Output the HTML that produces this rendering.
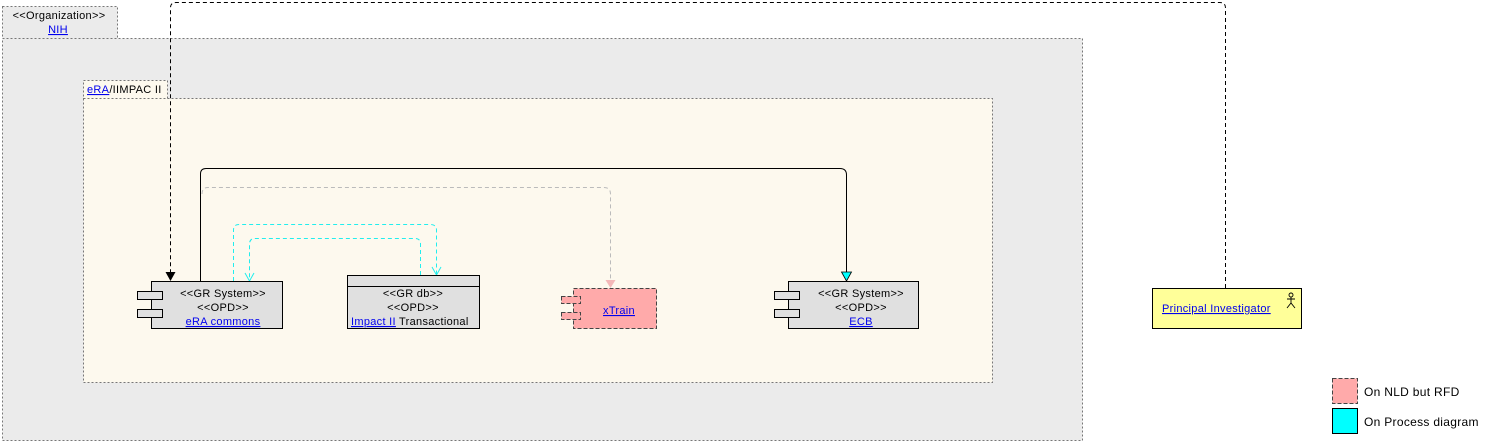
<!DOCTYPE html>
<html><head><meta charset="utf-8"><style>
body{margin:0;background:#fff}
svg{display:block;font-family:"Liberation Sans",sans-serif;font-size:11px;letter-spacing:0.3px}
.l{fill:#00e;text-decoration:underline}
</style></head><body>
<svg width="1504" height="445" viewBox="0 0 1504 445">
<!-- Org -->
<rect x="2.5" y="6.5" width="115" height="32" fill="#ebebeb" stroke="#777" stroke-dasharray="2,2"/>
<rect x="2.5" y="38.5" width="1080" height="402" fill="#ebebeb" stroke="#777" stroke-dasharray="2,2"/>
<text x="59" y="19" text-anchor="middle" fill="#000">&lt;&lt;Organization&gt;&gt;</text>
<text x="58" y="33" text-anchor="middle" class="l">NIH</text>
<!-- eRA -->
<rect x="83.5" y="80.5" width="84" height="18" fill="#fdf9ee" stroke="#777" stroke-dasharray="2,2"/>
<rect x="83.5" y="98.5" width="909" height="284" fill="#fdf9ee" stroke="#777" stroke-dasharray="2,2"/>
<text x="87" y="93"><tspan class="l">eRA</tspan><tspan>/IIMPAC II</tspan></text>
<!-- connectors -->
<path d="M1225.5,288 V8 Q1225.5,2.5 1220,2.5 H176 Q170.5,2.5 170.5,8 V272" fill="none" stroke="#000" stroke-dasharray="4,3"/>
<path d="M165.5,272 L175.5,272 L170.5,281z" fill="#000"/>
<path d="M200.5,281 V174 Q200.5,168.5 206,168.5 H840 Q846.5,168.5 846.5,175 V272" fill="none" stroke="#000"/>
<path d="M841.5,272 L851.5,272 L846.5,281z" fill="#0ff" stroke="#000" stroke-width="0.8"/>
<path d="M202,194 Q202,187.5 208,187.5 H604 Q610.5,187.5 610.5,194 V280" fill="none" stroke="#bbb" stroke-dasharray="4,3"/>
<path d="M605.5,280 L615.5,280 L610.5,288z" fill="#f4b8b8"/>
<path d="M233.5,281 V230 Q233.5,224.5 239,224.5 H430 Q436.5,224.5 436.5,230 V275" fill="none" stroke="#2ee" stroke-dasharray="4,3"/>
<path d="M432,267 L436.5,275 L441,267" fill="none" stroke="#2ee"/>
<path d="M420.5,275 V244 Q420.5,238.5 415,238.5 H255 Q249.5,238.5 249.5,244 V281" fill="none" stroke="#2ee" stroke-dasharray="4,3"/>
<path d="M245,273 L249.5,281 L254,273" fill="none" stroke="#2ee"/>
<!-- eRA commons -->
<rect x="151.5" y="281.5" width="131" height="47" fill="#e0e0e0" stroke="#000"/>
<rect x="137.5" y="291.5" width="25" height="8" fill="#e0e0e0" stroke="#000"/>
<rect x="137.5" y="309.5" width="25" height="8" fill="#e0e0e0" stroke="#000"/>
<text x="223" y="297" text-anchor="middle">&lt;&lt;GR System&gt;&gt;</text>
<text x="223" y="311" text-anchor="middle">&lt;&lt;OPD&gt;&gt;</text>
<text x="223" y="325" text-anchor="middle" class="l">eRA commons</text>
<!-- Impact -->
<rect x="347.5" y="275.5" width="132" height="53" fill="#e0e0e0" stroke="#000"/>
<line x1="347" y1="286.5" x2="480" y2="286.5" stroke="#000"/>
<text x="413" y="297" text-anchor="middle">&lt;&lt;GR db&gt;&gt;</text>
<text x="413" y="311" text-anchor="middle">&lt;&lt;OPD&gt;&gt;</text>
<text x="351" y="325"><tspan class="l">Impact II</tspan><tspan> Transactional</tspan></text>
<!-- xTrain -->
<rect x="573.5" y="288.5" width="83" height="40" fill="#ffaaaa" stroke="#444" stroke-dasharray="4,2"/>
<rect x="561.5" y="296.5" width="19" height="7" fill="#ffaaaa" stroke="#444" stroke-dasharray="4,2"/>
<rect x="561.5" y="312.5" width="19" height="7" fill="#ffaaaa" stroke="#444" stroke-dasharray="4,2"/>
<text x="619" y="314" text-anchor="middle" class="l">xTrain</text>
<!-- ECB -->
<rect x="788.5" y="281.5" width="130" height="47" fill="#e0e0e0" stroke="#000"/>
<rect x="774.5" y="291.5" width="25" height="8" fill="#e0e0e0" stroke="#000"/>
<rect x="774.5" y="309.5" width="25" height="8" fill="#e0e0e0" stroke="#000"/>
<text x="861" y="297" text-anchor="middle">&lt;&lt;GR System&gt;&gt;</text>
<text x="861" y="311" text-anchor="middle">&lt;&lt;OPD&gt;&gt;</text>
<text x="861" y="325" text-anchor="middle" class="l">ECB</text>
<!-- PI -->
<rect x="1152.5" y="288.5" width="149" height="40" fill="#ffff99" stroke="#000"/>
<text x="1162" y="312" class="l">Principal Investigator</text>
<g stroke="#000" fill="none" stroke-width="0.9"><circle cx="1291" cy="295" r="2"/><path d="M1291,297 V303 M1287,299 H1295 M1287,308 L1291,303 L1295,308"/></g>
<!-- legend -->
<rect x="1332.5" y="378.5" width="25" height="25" fill="#ffaaaa" stroke="#444" stroke-dasharray="4,2"/>
<rect x="1332.5" y="408.5" width="25" height="25" fill="#00ffff" stroke="#000"/>
<text x="1364" y="396" font-size="12">On NLD but RFD</text>
<text x="1364" y="426" font-size="12">On Process diagram</text>
</svg>
</body></html>
